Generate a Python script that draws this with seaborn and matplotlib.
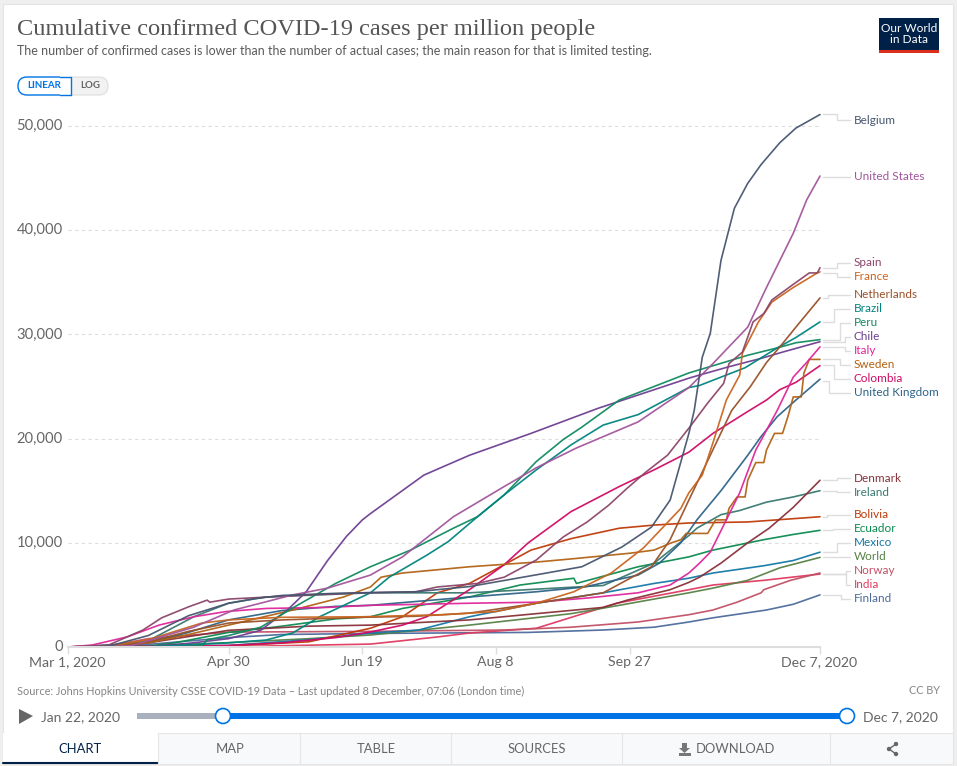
import pandas as pd
import seaborn as sns
import matplotlib.pyplot as plt
import matplotlib.dates as mdates
from matplotlib.patches import Rectangle, FancyBboxPatch, Circle, Polygon

sns.set_theme(style="white")
plt.rcParams['font.family'] = ['Lato', 'DejaVu Sans']

# days since Mar 1 2020 and cases per million
belgium_days = [0, 15, 30, 45, 60, 70, 80, 100, 130, 150, 170, 192, 207, 218, 225, 232, 234, 237, 240, 244, 245, 249, 254, 259, 266, 272, 281]
belgium = [0, 60, 1100, 3000, 4200, 4650, 4950, 5150, 5300, 5800, 6700, 7700, 9600, 11500, 14100, 20500, 22700, 27800, 30100, 37100, 38100, 42100, 44500, 46300, 48400, 49800, 51100]
us_days = [0, 15, 24, 47, 62, 84, 97, 113, 125, 144, 163, 175, 190, 213, 232, 241, 254, 261, 271, 276, 281]
us = [0, 10, 150, 1900, 3550, 5000, 5650, 6900, 8650, 12500, 15400, 17200, 19100, 21600, 24900, 27200, 30700, 34500, 39700, 42900, 45200]
spain_days = [0, 15, 22, 28, 35, 45, 52, 53, 60, 75, 90, 110, 130, 138, 153, 163, 175, 185, 194, 202, 209, 216, 224, 232, 239, 245, 247, 252, 256, 260, 263, 271, 277, 280, 281]
spain = [0, 170, 960, 1630, 2800, 3850, 4500, 4300, 4600, 4800, 5000, 5200, 5300, 5760, 6100, 6700, 8350, 10550, 12000, 13600, 15250, 16800, 18400, 21000, 23400, 25300, 27200, 28300, 31200, 32000, 33300, 34800, 35900, 35900, 36400]
france_days = [0, 15, 30, 40, 50, 60, 80, 110, 140, 160, 175, 189, 203, 215, 229, 232, 237, 241, 246, 251, 252, 258, 263, 271, 280, 281]
france = [0, 80, 700, 1500, 2300, 2600, 2850, 2900, 3100, 3400, 4200, 5300, 7100, 9500, 13300, 14800, 16500, 19600, 23700, 26100, 28200, 31200, 33100, 34500, 35900, 36000]
netherlands_days = [0, 15, 30, 45, 60, 80, 110, 130, 150, 170, 190, 200, 218, 225, 232, 248, 255, 261, 266, 272, 281]
netherlands = [0, 20, 500, 1500, 2300, 2600, 2850, 2950, 3250, 4000, 4800, 5200, 7700, 10300, 14100, 22700, 25000, 27300, 28800, 30700, 33500]
brazil_days = [0, 30, 60, 74, 84, 94, 113, 120, 134, 142, 153, 163, 175, 188, 200, 213, 232, 236, 253, 265, 272, 281]
brazil = [0, 20, 400, 670, 1350, 2900, 5200, 6700, 8800, 10100, 12500, 14600, 17000, 19400, 21300, 22300, 24900, 25100, 26800, 28700, 29700, 31200]
peru_days = [0, 30, 50, 52, 60, 72, 84, 100, 113, 128, 144, 153, 163, 175, 185, 192, 206, 219, 232, 245, 254, 265, 272, 281]
peru = [0, 30, 100, 700, 1100, 1900, 3750, 6100, 7700, 9300, 11400, 12500, 14600, 17800, 19900, 21100, 23700, 25000, 26300, 27300, 28000, 28700, 29200, 29500]
chile_days = [0, 30, 45, 60, 72, 82, 89, 97, 104, 110, 113, 133, 150, 173, 198, 232, 236, 247, 259, 267, 281]
chile = [0, 50, 350, 800, 1600, 3550, 5300, 8300, 10600, 12200, 12800, 16500, 18400, 20500, 22900, 25800, 26100, 26900, 27700, 28300, 29300]
italy_days = [0, 9, 22, 34, 47, 59, 74, 97, 113, 150, 175, 194, 213, 225, 232, 236, 240, 246, 251, 257, 265, 271, 276, 281]
italy = [0, 190, 960, 2100, 2900, 3400, 3700, 3800, 4000, 4200, 4300, 4700, 5200, 5950, 7100, 8050, 9100, 12200, 14800, 18900, 22700, 25900, 27300, 28800]
sweden_days = [0, 15, 30, 45, 60, 84, 103, 113, 117, 125, 150, 175, 190, 210, 219, 225, 229, 231, 239, 242, 246, 247, 250, 253, 254, 257, 260, 261, 264, 267, 269, 271, 274, 275, 277, 281]
sweden = [0, 10, 400, 1200, 2100, 3550, 4800, 5760, 6700, 7100, 7700, 8150, 8500, 9000, 9300, 9950, 10300, 10900, 10900, 12200, 12200, 13300, 14400, 14400, 16000, 17700, 17700, 18900, 20500, 20500, 22100, 24000, 24000, 26300, 27600, 27600]
colombia_days = [0, 60, 80, 100, 113, 125, 134, 150, 163, 172, 188, 206, 219, 232, 241, 254, 261, 266, 272, 281]
colombia = [0, 150, 400, 900, 1440, 2100, 2900, 5500, 7900, 10000, 13000, 15400, 17000, 18700, 20500, 22600, 23700, 24700, 25400, 27000]
uk_days = [0, 30, 45, 60, 80, 100, 113, 150, 175, 193, 213, 221, 229, 235, 244, 254, 259, 265, 272, 281]
uk = [0, 400, 1400, 2600, 3500, 3900, 4000, 4800, 5300, 5760, 6900, 8050, 10000, 12200, 15000, 18400, 20200, 22100, 23700, 25700]
denmark_days = [0, 15, 30, 60, 90, 113, 150, 200, 209, 225, 232, 236, 244, 254, 262, 271, 281]
denmark = [0, 100, 400, 1600, 2000, 2100, 2600, 3800, 4500, 5500, 6200, 6700, 8050, 10000, 11400, 13400, 16000]
ireland_days = [0, 15, 30, 47, 60, 74, 113, 150, 200, 219, 232, 235, 244, 251, 261, 271, 281]
ireland = [0, 20, 600, 2900, 4200, 4800, 5200, 5200, 5900, 8050, 10700, 11400, 12700, 13100, 13900, 14400, 15000]
bolivia_days = [0, 60, 90, 113, 125, 138, 150, 163, 173, 188, 206, 219, 232, 254, 281]
bolivia = [0, 100, 500, 1800, 2900, 5200, 6100, 7900, 9300, 10400, 11400, 11700, 11900, 12000, 12500]
ecuador_days = [0, 30, 40, 60, 80, 100, 113, 125, 150, 169, 189, 190, 213, 232, 241, 260, 271, 281]
ecuador = [0, 80, 400, 1400, 2000, 2700, 2900, 3700, 4800, 5950, 6600, 6100, 7700, 8650, 9300, 10300, 10800, 11200]
mexico_days = [0, 60, 90, 113, 131, 150, 175, 200, 219, 232, 241, 260, 271, 281]
mexico = [0, 150, 700, 1340, 1630, 2900, 4200, 5200, 6100, 6600, 7100, 7800, 8300, 9100]
world_days = [0, 30, 60, 90, 113, 150, 188, 206, 232, 241, 254, 266, 281]
world = [10, 110, 420, 800, 1150, 2100, 3200, 4000, 5200, 5650, 6400, 7600, 8600]
norway_days = [0, 15, 30, 60, 113, 163, 188, 213, 232, 241, 250, 259, 260, 270, 281]
norway = [0, 100, 800, 1430, 1500, 1630, 1900, 2400, 3100, 3550, 4300, 5200, 5500, 6400, 7100]
india_days = [0, 60, 113, 138, 150, 175, 205, 232, 241, 260, 281]
india = [0, 30, 280, 960, 1340, 1800, 4200, 5500, 5950, 6400, 7000]
finland_days = [0, 30, 60, 80, 113, 172, 200, 219, 232, 241, 261, 271, 281]
finland = [0, 250, 900, 1200, 1300, 1400, 1630, 1900, 2400, 2800, 3550, 4100, 5000]

countries = ['Belgium', 'United States', 'Spain', 'France', 'Netherlands', 'Brazil', 'Peru', 'Chile', 'Italy', 'Sweden', 'Colombia',
             'United Kingdom', 'Denmark', 'Ireland', 'Bolivia', 'Ecuador', 'Mexico', 'World', 'Norway', 'India', 'Finland']
colors = ['#46566F', '#A2559C', '#8C4569', '#C9651F', '#9A5129', '#00847E', '#0F8A5F', '#6D3E91', '#E0269A', '#B16214', '#CF0A66',
          '#2C6388', '#883039', '#38786F', '#BE3A08', '#0B8A4F', '#1478A6', '#578145', '#C15065', '#E0395F', '#4C6A9C']
series = [(belgium_days, belgium), (us_days, us), (spain_days, spain), (france_days, france), (netherlands_days, netherlands),
          (brazil_days, brazil), (peru_days, peru), (chile_days, chile), (italy_days, italy), (sweden_days, sweden),
          (colombia_days, colombia), (uk_days, uk), (denmark_days, denmark), (ireland_days, ireland), (bolivia_days, bolivia),
          (ecuador_days, ecuador), (mexico_days, mexico), (world_days, world), (norway_days, norway), (india_days, india),
          (finland_days, finland)]

y_ticks = [0, 10000, 20000, 30000, 40000, 50000]
x_tick_days = [0, 60, 110, 160, 210, 281]
x_tick_labels = ['Mar 1, 2020', 'Apr 30', 'Jun 19', 'Aug 8', 'Sep 27', 'Dec 7, 2020']

# label layout: end of line y, elbow x, label y (pixels)
leader_start = [114, 177, 268, 273, 298, 322, 340, 342, 347, 359, 365, 381, 480, 491, 517, 530, 552, 557, 574, 574, 595]
leader_mid = [837, 837, 837, 837, 828, 834, 840, 845, 845, 840, 834, 829, 837, 837, 827, 833, 837, 837, 846, 846, 841]
label_y = [120, 177, 263, 277, 295, 309, 323, 337, 351, 365, 379, 393, 478, 492, 515, 529, 543, 557, 571, 585, 599]

start = pd.Timestamp('2020-03-01')
frames = []
for name, (d, v) in zip(countries, series):
    frames.append(pd.DataFrame({'date': start + pd.to_timedelta(d, unit='D'), 'cases': v, 'country': name}))
df = pd.concat(frames, ignore_index=True)

W, H = 957, 766
fig = plt.figure(figsize=(W / 100, H / 100), dpi=100, facecolor='white')

# page furniture in pixel coordinates
bg = fig.add_axes([0, 0, 1, 1], zorder=0)
bg.set_xlim(0, W)
bg.set_ylim(H, 0)
bg.axis('off')
bg.add_patch(Rectangle((0, 0), W, H, fc='#efefef', ec='none'))
bg.add_patch(Rectangle((3, 4), 950, 760, fc='white', ec='#e4e4e4', lw=0.8))

bg.text(17, 30, 'Cumulative confirmed COVID-19 cases per million people', family='Liberation Serif',
        fontsize=17.6, color='#555555', va='center')
bg.text(17, 51, 'The number of confirmed cases is lower than the number of actual cases; the main reason for that is limited testing.',
        fontsize=9.03, color='#5b5b5b', va='center')

bg.add_patch(Rectangle((879, 18), 60, 35, fc='#002147', ec='none'))
bg.add_patch(Rectangle((879, 50), 60, 3, fc='#dc2e1c', ec='none'))
bg.text(909, 34, 'Our World\nin Data', color='white', fontsize=8.6, ha='center', va='center', linespacing=1.0)

bg.add_patch(FancyBboxPatch((62, 77), 46, 18, boxstyle='round,pad=0,rounding_size=9', fc='#f2f2f2', ec='#dddddd', lw=0.8))
bg.add_patch(FancyBboxPatch((18, 77), 52, 18, boxstyle='round,pad=0,rounding_size=9', fc='white', ec='#0073e6', lw=1))
bg.add_patch(Rectangle((60, 76), 11, 20, fc='white', ec='none'))
bg.plot([60, 71, 71, 60], [77, 77, 95, 95], color='#0073e6', lw=1)
bg.text(44.5, 86, 'LINEAR', color='#0073e6', fontsize=7, fontweight='bold', ha='center', va='center')
bg.text(90, 86, 'LOG', color='#666666', fontsize=7, fontweight='bold', ha='center', va='center')

for name, col, s, mid, ly in zip(countries, colors, leader_start, leader_mid, label_y):
    bg.plot([823, mid, mid, 850], [s, s, ly, ly], color='#dddddd', lw=1)
    bg.text(854, ly, name, color=col, fontsize=8.45, va='center')

for val in y_ticks:
    bg.text(63, 647 - val * 0.01042, f'{val:,}', color='#666666', fontsize=10.6, ha='right', va='center')
for d, lab in zip(x_tick_days, x_tick_labels):
    bg.text(67.5 + d * 2.676, 662, lab, color='#666666', fontsize=10.2, ha='center', va='center')

bg.text(17, 691, 'Source: Johns Hopkins University CSSE COVID-19 Data – Last updated 8 December, 07:06 (London time)',
        fontsize=7.85, color='#858585', va='center')
bg.text(940, 691, 'CC BY', fontsize=7.85, color='#858585', va='center', ha='right')

bg.add_patch(Polygon([(19, 709), (33, 716), (19, 724)], fc='#666666', ec='none'))
bg.text(41, 717, 'Jan 22, 2020', fontsize=10, color='#666666', va='center')
bg.text(863, 717, 'Dec 7, 2020', fontsize=10, color='#666666', va='center')
bg.add_patch(Rectangle((137, 713), 86, 6, fc='#a9b1bf', ec='none'))
bg.add_patch(Rectangle((223, 713), 624, 6, fc='#0073e6', ec='none'))
for cx in [223, 847]:
    bg.add_patch(Circle((cx, 716), 7.5, fc='white', ec='#0073e6', lw=1.2, zorder=5))

bg.add_patch(Rectangle((3, 733), 950, 31, fc='#f8f9fa', ec='none'))
bg.add_patch(Rectangle((3, 733), 155, 31, fc='white', ec='none'))
bg.plot([3, 158], [763, 763], color='#002147', lw=1.5)
for sx in [158, 300, 451, 622, 830]:
    bg.plot([sx, sx], [733, 764], color='#e6e6e6', lw=0.8)
bg.plot([158, 953], [733, 733], color='#e6e6e6', lw=0.8)
tab_labels = ['CHART', 'MAP', 'TABLE', 'SOURCES', 'DOWNLOAD']
tab_x = [80, 230, 376, 537, 735]
for lab, tx in zip(tab_labels, tab_x):
    bg.text(tx, 749, lab, fontsize=9.4, color='#002147' if lab == 'CHART' else '#666666', ha='center', va='center')
# download and share icons
bg.add_patch(Polygon([(682, 743), (687, 743), (687, 748), (690, 748), (684.5, 753), (679, 748), (682, 748)], fc='#777777', ec='none'))
bg.add_patch(Rectangle((679, 753), 12, 3, fc='#777777', ec='none'))
bg.plot([896, 889, 896], [744, 749, 754], color='#666666', lw=1)
for ix, iy in [(896, 744), (889, 749), (896, 754)]:
    bg.add_patch(Circle((ix, iy), 2.2, fc='#666666', ec='none'))

# the chart itself
ax = fig.add_axes([68 / W, (H - 647) / H, 752 / W, 533 / H], zorder=1)
ax.patch.set_alpha(0)
sns.lineplot(data=df, x='date', y='cases', hue='country', hue_order=countries[::-1], palette=dict(zip(countries, colors)),
             estimator=None, sort=False, legend=False, linewidth=1.2, alpha=0.95, ax=ax, clip_on=False)
ax.set_xlim(start, start + pd.Timedelta(days=281))
ax.set_ylim(0, 533 / 0.01042)
ax.set_xlabel('')
ax.set_ylabel('')
ax.set_yticks(y_ticks)
ax.set_yticklabels([])
ax.set_xticks([start + pd.Timedelta(days=d) for d in x_tick_days])
ax.set_xticklabels([])
ax.xaxis.set_major_formatter(mdates.DateFormatter(''))
ax.grid(axis='y', color='#dddddd', linestyle=(0, (3, 3)), linewidth=0.8)
ax.set_axisbelow(True)
ax.tick_params(axis='x', length=5, width=1, color='#dddddd', bottom=True, pad=0)
ax.tick_params(axis='y', length=0)
sns.despine(ax=ax, left=True)
ax.spines['bottom'].set_color('#dddddd')
ax.spines['bottom'].set_linewidth(1.5)

fig.savefig('out.png', dpi=100)
